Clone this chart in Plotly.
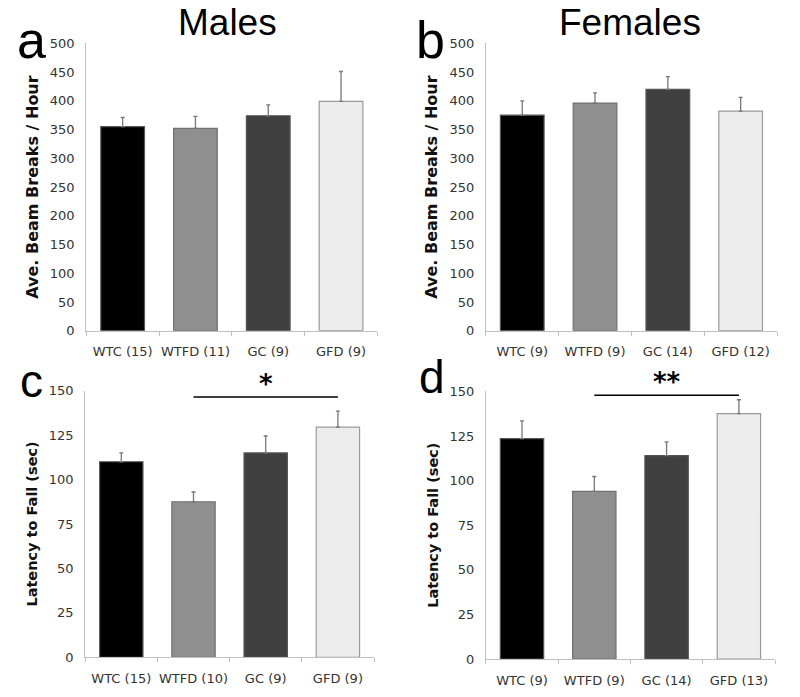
import plotly.graph_objects as go

# ---- data ----
groups = ["WTC", "WTFD", "GC", "GFD"]
labels_a = ["WTC (15)", "WTFD (11)", "GC (9)", "GFD (9)"]
labels_b = ["WTC (9)", "WTFD (9)", "GC (14)", "GFD (12)"]
labels_c = ["WTC (15)", "WTFD (10)", "GC (9)", "GFD (9)"]
labels_d = ["WTC (9)", "WTFD (9)", "GC (14)", "GFD (13)"]

beam_males = [355, 352, 374, 399]
beam_males_err = [16, 21, 19, 52]
beam_females = [375, 396, 420, 382]
beam_females_err = [25, 18, 22, 24]
latency_males = [110, 87.5, 115, 129.5]
latency_males_err = [5, 5.5, 9.5, 9]
latency_females = [123.5, 94, 114, 137.5]
latency_females_err = [10, 8.3, 7.7, 7.8]

sig_c = {"from": "WTFD (10)", "to": "GFD (9)", "mid": "GC (9)", "y": 146.5, "label": "*"}
sig_d = {"from": "WTFD (9)", "to": "GFD (13)", "mid": "GC (14)", "y": 147.8, "label": "**"}

bar_colors = ["#000000", "#8f8f8f", "#404040", "#ececec"]
line_colors = ["#555555", "#707070", "#555555", "#9a9a9a"]

panels = [
    (labels_a, beam_males, beam_males_err, "x", "y", [0.1078, 0.4718], [0.5255, 0.9378], [0, 500], 50, "Ave. Beam Breaks / Hour", 16),
    (labels_b, beam_females, beam_females_err, "x2", "y2", [0.6073, 0.9713], [0.5255, 0.9378], [0, 500], 50, "Ave. Beam Breaks / Hour", 16),
    (labels_c, latency_males, latency_males_err, "x3", "y3", [0.1065, 0.4675], [0.057, 0.4395], [0, 150], 25, "Latency to Fall (sec)", 14.5),
    (labels_d, latency_females, latency_females_err, "x4", "y4", [0.6073, 0.9688], [0.0545, 0.4385], [0, 150], 25, "Latency to Fall (sec)", 14.5),
]

fig = go.Figure()
layout = dict(
    width=800, height=697,
    margin=dict(l=0, r=0, t=0, b=0, autoexpand=False),
    paper_bgcolor="white", plot_bgcolor="white",
    showlegend=False, bargap=0.4,
    font=dict(family="DejaVu Sans", color="#333333"),
)

for i, (labs, vals, errs, xa, ya, xd, yd, yr, dt, yt, ts) in enumerate(panels):
    fig.add_trace(go.Bar(
        x=labs, y=vals, xaxis=xa, yaxis=ya,
        marker=dict(color=bar_colors, line=dict(color=line_colors, width=1.2)),
        error_y=dict(type="data", symmetric=False, array=errs, arrayminus=[0]*4,
                     color="#777777", thickness=1.3, width=2),
    ))
    xk = "xaxis" if i == 0 else f"xaxis{i+1}"
    yk = "yaxis" if i == 0 else f"yaxis{i+1}"
    layout[xk] = dict(domain=xd, anchor=ya, type="category", range=[-0.5, 3.5], automargin=False,
                      showline=True, linecolor="#c0c0c0", linewidth=1, tickangle=0,
                      ticks="outside", tickson="boundaries", ticklen=4, tickcolor="#c0c0c0",
                      ticklabelstandoff=9,
                      tickfont=dict(size=13, color="#333333", family="DejaVu Sans"),
                      showgrid=False, zeroline=False, fixedrange=True)
    layout[yk] = dict(domain=yd, anchor=xa, range=yr, dtick=dt, tick0=0, automargin=False,
                      showline=True, linecolor="#c0c0c0", linewidth=1,
                      ticks="", showgrid=False, zeroline=False, ticklabelstandoff=8,
                      tickfont=dict(size=13, color="#333333", family="DejaVu Sans"),
                      title=dict(text=yt, font=dict(size=ts, color="#111111", family="DejaVu Sans", weight="bold"),
                                 standoff=7))

fig.update_layout(**layout)

for sig, xa, ya in [(sig_c, "x3", "y3"), (sig_d, "x4", "y4")]:
    fig.add_shape(type="line", xref=xa, yref=ya, x0=sig["from"], x1=sig["to"],
                  y0=sig["y"], y1=sig["y"], line=dict(color="#000000", width=1.5))
    fig.add_annotation(xref=xa, yref=ya, x=sig["mid"], y=sig["y"], text=sig["label"],
                       showarrow=False, yanchor="bottom", yshift=-4,
                       font=dict(size=26, color="#000000", family="DejaVu Sans", weight="bold"))

texts = [("Males", 227, 23, 37), ("Females", 630, 23, 37)]
for t, x, y, s in texts:
    fig.add_annotation(xref="paper", yref="paper", x=x/800, y=1 - y/697, text=t, showarrow=False,
                       xanchor="center", yanchor="middle",
                       font=dict(size=s, color="#000000", family="Liberation Sans"))

letters = [("a", 31, 40, 52), ("b", 431, 40, 52), ("c", 31, 381, 46), ("d", 432, 377, 46)]
for t, x, y, s in letters:
    fig.add_annotation(xref="paper", yref="paper", x=x/800, y=1 - y/697, text=t, showarrow=False,
                       xanchor="center", yanchor="middle",
                       font=dict(size=s, color="#000000", family="Liberation Sans"))

fig.write_html("out.html", config={"displayModeBar": False},
               post_script="document.body.style.margin='0';document.body.style.overflow='hidden';")
